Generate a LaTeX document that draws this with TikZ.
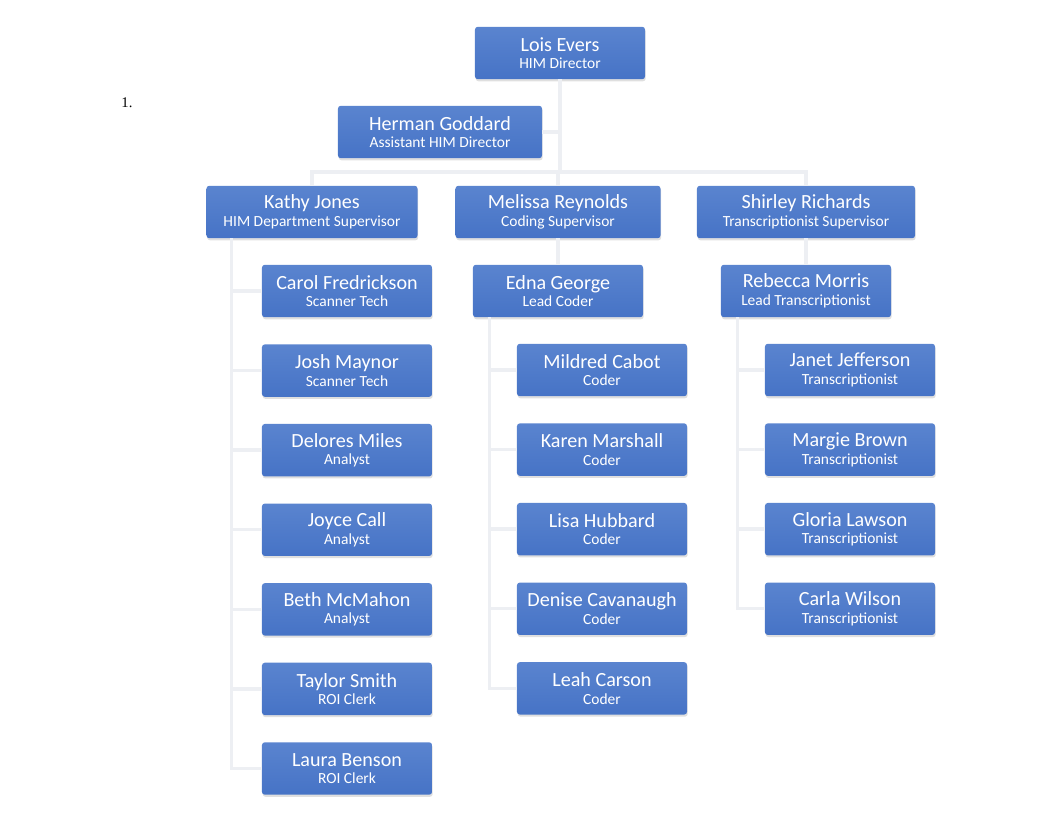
\documentclass[tikz,border=0pt]{standalone}
\usepackage{fontspec}
\setmainfont{Carlito}
\newfontfamily\listfont{Liberation Serif}
\usepackage{xcolor}
\usepackage{tikz}
\usetikzlibrary{positioning, shadows, calc}
\definecolor{boxBlue}{HTML}{4673C6}
\definecolor{boxTop}{HTML}{5A84CF}
\definecolor{linkGray}{HTML}{EDEFF3}

\begin{document}
\begin{tikzpicture}[
    x=0.025cm, y=-0.025cm,
    node distance=0.665cm,
    staff/.style={
      rectangle, rounded corners=2pt, draw=none,
      top color=boxTop, bottom color=boxBlue,
      minimum width=4.25cm, minimum height=1.31cm, inner sep=1pt,
      text=white, align=center, font=\fontsize{14.3}{17}\selectfont,
      drop shadow={opacity=0.25, shadow xshift=0.5pt, shadow yshift=-1.5pt}
    },
    link/.style={line width=2.4pt, linkGray},
  ]
  \useasboundingbox (0,0) rectangle (1062,822);

  %% ── list mark ──
  \node[font=\listfont\fontsize{10.5}{12}\selectfont] (mark) at (127,103) {1.};

  %% ── Director and assistant ──
  \node[staff] (LE) at (560,53) {Lois Evers\\[-4.5pt]{\fontsize{11}{13}\selectfont HIM Director}};
  \node[staff, minimum width=5.1cm] (HG) at (440,132) {Herman Goddard\\[-4.5pt]{\fontsize{11}{13}\selectfont Assistant HIM Director}};

  %% ── Supervisors ──
  \node[staff, minimum width=5.275cm] (KJ) at (312,212) {Kathy Jones\\[-4.5pt]{\fontsize{11}{13}\selectfont HIM Department Supervisor}};
  \node[staff, minimum width=5.125cm] (MR) at (558,212) {Melissa Reynolds\\[-4.5pt]{\fontsize{11}{13}\selectfont Coding Supervisor}};
  \node[staff, minimum width=5.45cm]  (SR) at (806,212) {Shirley Richards\\[-4.5pt]{\fontsize{11}{13}\selectfont Transcriptionist Supervisor}};

  %% ── Kathy's team ──
  \node[staff] (CF) at (347,291) {Carol Fredrickson\\[-4.5pt]{\fontsize{11}{13}\selectfont Scanner Tech}};
  \node[staff, below=of CF] (JM) {Josh Maynor\\[-4.5pt]{\fontsize{11}{13}\selectfont Scanner Tech}};
  \node[staff, below=of JM] (DM) {Delores Miles\\[-4.5pt]{\fontsize{11}{13}\selectfont Analyst}};
  \node[staff, below=of DM] (JC) {Joyce Call\\[-4.5pt]{\fontsize{11}{13}\selectfont Analyst}};
  \node[staff, below=of JC] (BM) {Beth McMahon\\[-4.5pt]{\fontsize{11}{13}\selectfont Analyst}};
  \node[staff, below=of BM] (TS) {Taylor Smith\\[-4.5pt]{\fontsize{11}{13}\selectfont ROI Clerk}};
  \node[staff, below=of TS] (LB) {Laura Benson\\[-4.5pt]{\fontsize{11}{13}\selectfont ROI Clerk}};

  %% ── Coding team ──
  \node[staff] (EG) at (558,291) {Edna George\\[-4.5pt]{\fontsize{11}{13}\selectfont Lead Coder}};
  \node[staff] (MC) at (602,370) {Mildred Cabot\\[-4.5pt]{\fontsize{11}{13}\selectfont Coder}};
  \node[staff, below=of MC] (KM) {Karen Marshall\\[-4.5pt]{\fontsize{11}{13}\selectfont Coder}};
  \node[staff, below=of KM] (LH) {Lisa Hubbard\\[-4.5pt]{\fontsize{11}{13}\selectfont Coder}};
  \node[staff, below=of LH] (DC) {Denise Cavanaugh\\[-4.5pt]{\fontsize{11}{13}\selectfont Coder}};
  \node[staff, below=of DC] (LC) {Leah Carson\\[-4.5pt]{\fontsize{11}{13}\selectfont Coder}};

  %% ── Transcription team ──
  \node[staff] (RM) at (806,291) {Rebecca Morris\\[-4.5pt]{\fontsize{11}{13}\selectfont Lead Transcriptionist}};
  \node[staff] (JJ) at (850,370) {Janet Jefferson\\[-4.5pt]{\fontsize{11}{13}\selectfont Transcriptionist}};
  \node[staff, below=of JJ] (MB) {Margie Brown\\[-4.5pt]{\fontsize{11}{13}\selectfont Transcriptionist}};
  \node[staff, below=of MB] (GL) {Gloria Lawson\\[-4.5pt]{\fontsize{11}{13}\selectfont Transcriptionist}};
  \node[staff, below=of GL] (CW) {Carla Wilson\\[-4.5pt]{\fontsize{11}{13}\selectfont Transcriptionist}};

  %% ── Links ──
  \coordinate (bus) at (560,172);
  \draw[link] (LE) -- (bus);
  \draw[link] (HG.east) -- (HG.east -| LE.south);
  \draw[link] (KJ.north) |- (bus) -| (SR.north);
  \draw[link] (MR.north) -- (MR.north |- bus);
  \draw[link] (MR) -- (EG);
  \draw[link] (SR) -- (RM);

  \coordinate (kjdrop) at ($(KJ.south west)+(25,0)$);
  \draw[link] (kjdrop) |- (CF.west);
  \draw[link] (kjdrop) |- (JM.west);
  \draw[link] (kjdrop) |- (DM.west);
  \draw[link] (kjdrop) |- (JC.west);
  \draw[link] (kjdrop) |- (BM.west);
  \draw[link] (kjdrop) |- (TS.west);
  \draw[link] (kjdrop) |- (LB.west);

  \coordinate (egdrop) at ($(EG.south west)+(17,0)$);
  \draw[link] (egdrop) |- (MC.west);
  \draw[link] (egdrop) |- (KM.west);
  \draw[link] (egdrop) |- (LH.west);
  \draw[link] (egdrop) |- (DC.west);
  \draw[link] (egdrop) |- (LC.west);

  \coordinate (rmdrop) at ($(RM.south west)+(17,0)$);
  \draw[link] (rmdrop) |- (JJ.west);
  \draw[link] (rmdrop) |- (MB.west);
  \draw[link] (rmdrop) |- (GL.west);
  \draw[link] (rmdrop) |- (CW.west);

\end{tikzpicture}
\end{document}
